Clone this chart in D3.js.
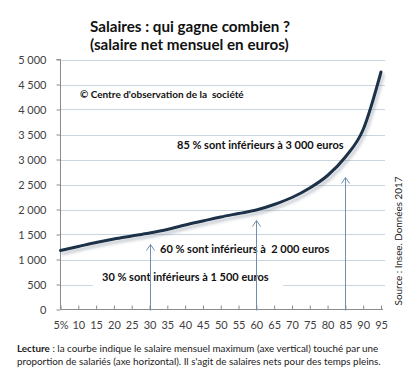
<!DOCTYPE html>
<html>
<head>
<meta charset="utf-8">
<script src="https://cdn.jsdelivr.net/npm/d3@7"></script>
<style>
  body { margin: 0; background: #fff; }
  svg { display: block; font-family: Lato, 'Open Sans', sans-serif; }
  .title { font-weight: bold; font-size: 15.2px; fill: #111; }
  .note { font-weight: bold; font-size: 11px; fill: #111; white-space: pre; }
  .tick text { font-size: 11px; fill: #404040; font-family: Lato, sans-serif; }
  .foot { font-size: 9.85px; fill: #222; }
</style>
</head>
<body>
<svg id="chart" width="419" height="377"></svg>
<script>
// percentiles (x categories)
const pcts = [5, 10, 15, 20, 25, 30, 35, 40, 45, 50, 55, 60, 65, 70, 75, 80, 85, 90, 95];
// net monthly salary at each percentile
const salaries = [1180, 1260, 1340, 1410, 1470, 1530, 1600, 1690, 1770, 1850,
                  1920, 1990, 2100, 2240, 2430, 2680, 3050, 3600, 4750];
const yTicks = [0, 500, 1000, 1500, 2000, 2500, 3000, 3500, 4000, 4500, 5000];
const xLabels = ['5%', '10', '15', '20', '25', '30', '35', '40', '45', '50',
                 '55', '60', '65', '70', '75', '80', '85', '90', '95'];
// arrows: percentile and salary where the arrow head stops
const arrowPct = [30, 60, 85];
const arrowTop = [1300, 1780, 2640];
const notes = [
  '30 % sont inférieurs à 1 500 euros',
  '60 % sont inférieurs à  2 000 euros',
  '85 % sont inférieurs à 3 000 euros'
];

const svg = d3.select('#chart');
const margin = { top: 59.5, right: 38, bottom: 67.5, left: 60.5 };
const W = +svg.attr('width'), H = +svg.attr('height');

const x = d3.scalePoint().domain(pcts).range([margin.left, 381]);
const y = d3.scaleLinear().domain([0, 5000]).range([H - margin.bottom, margin.top]);

// drop shadow for the curve
const defs = svg.append('defs');
const f = defs.append('filter').attr('id', 'shadow')
  .attr('x', '-10%').attr('y', '-10%').attr('width', '130%').attr('height', '130%');
f.append('feDropShadow').attr('dx', 2).attr('dy', 3).attr('stdDeviation', 1.6)
  .attr('flood-color', '#7a8696').attr('flood-opacity', 0.45);

// gridlines
svg.append('g').selectAll('line').data(yTicks.slice(1)).enter().append('line')
  .attr('x1', margin.left).attr('x2', 385)
  .attr('y1', d => Math.round(y(d)) + 0.5).attr('y2', d => Math.round(y(d)) + 0.5)
  .attr('stroke', '#c9d5e1').attr('stroke-width', 1);

// y axis
const yAxis = svg.append('g').attr('transform', `translate(${margin.left},0)`)
  .call(d3.axisLeft(y).tickValues(yTicks).tickSize(4).tickPadding(10)
    .tickFormat(d => d3.format(',')(d).replace(',', ' ')));
yAxis.select('.domain').attr('stroke', '#8c8c8c').attr('d', `M-4,${y(5000)}H0V${y(0)}`);
yAxis.selectAll('.tick line').attr('stroke', '#8c8c8c');

// x axis (ticks pointing up, inside)
const xAxis = svg.append('g').attr('transform', `translate(0,${y(0)})`)
  .call(d3.axisBottom(x).tickSizeInner(-4).tickSizeOuter(0).tickPadding(12)
    .tickFormat((d, i) => xLabels[i]));
xAxis.select('.domain').attr('stroke', '#8c8c8c').attr('d', `M${margin.left},0H383`);
xAxis.selectAll('.tick line').attr('stroke', '#8c8c8c');

// notes (white box behind the 30% label hides the gridline)
const notePos = [[102, 281], [160, 253], [177, 149]];
notes.forEach((t, i) => {
  const txt = svg.append('text').attr('class', 'note')
    .attr('x', notePos[i][0]).attr('y', notePos[i][1]).text(t);
  if (i === 0) {
    const b = txt.node().getBBox();
    svg.insert('rect', 'text.note')
      .attr('x', 93).attr('y', b.y - 1).attr('width', 190).attr('height', b.height + 6)
      .attr('fill', '#fff');
  }
});

// arrows
const arrows = svg.append('g').attr('stroke', '#6e8fb1').attr('fill', 'none').attr('stroke-width', 1);
arrowPct.forEach((p, i) => {
  const ax = Math.round(x(p)) + 0.5;
  const top = y(arrowTop[i]);
  arrows.append('line').attr('x1', ax).attr('x2', ax).attr('y1', y(0) + 1).attr('y2', top);
  arrows.append('path').attr('d', `M${ax - 4},${top + 6}L${ax},${top}L${ax + 4},${top + 6}`);
});

// curve
const line = d3.line()
  .x((d, i) => x(pcts[i]))
  .y(d => y(d))
  .curve(d3.curveMonotoneX);
svg.append('path').datum(salaries)
  .attr('d', line)
  .attr('fill', 'none').attr('stroke', '#1d3049').attr('stroke-width', 3)
  .attr('stroke-linecap', 'round')
  .attr('filter', 'url(#shadow)');

// titles
svg.append('text').attr('class', 'title').attr('x', 90).attr('y', 32).text('Salaires : qui gagne combien ?');
svg.append('text').attr('class', 'title').attr('x', 90).attr('y', 50).text('(salaire net mensuel en euros)');
svg.append('text').attr('class', 'note').attr('x', 80).attr('y', 98).style('font-size', '10px')
  .text('© Centre d\'observation de la  société');

// source, vertical
svg.append('text').attr('class', 'foot')
  .attr('transform', 'translate(402,241) rotate(-90)')
  .attr('text-anchor', 'middle')
  .text('Source : Insee. Données 2017');

// footer
const l1 = svg.append('text').attr('class', 'foot').attr('x', 17).attr('y', 352);
l1.append('tspan').attr('font-weight', 'bold').text('Lecture');
l1.append('tspan').text(' : la courbe indique le salaire mensuel maximum (axe vertical) touché par une');
svg.append('text').attr('class', 'foot').attr('x', 17).attr('y', 365)
  .text('proportion de salariés (axe horizontal). Il s\'agit de salaires nets pour des temps pleins.');
</script>
</body>
</html>
